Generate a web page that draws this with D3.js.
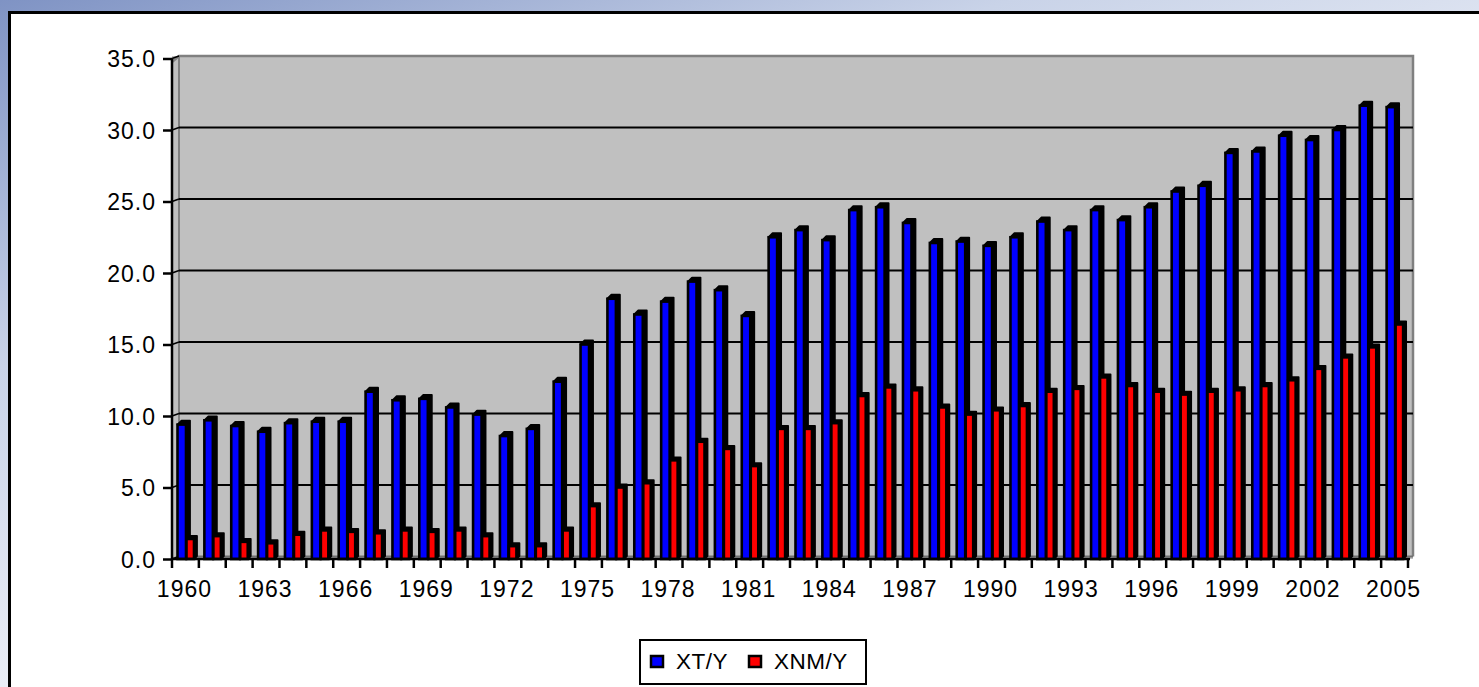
<!DOCTYPE html>
<html><head><meta charset="utf-8">
<script src="https://cdn.jsdelivr.net/npm/d3@7"></script>
<style>
html,body{margin:0;padding:0;}
body{width:1479px;height:687px;overflow:hidden;background:linear-gradient(160deg,#7f93c4 0%,#c9d3e8 30%,#eef1f8 60%,#b7c3df 100%);}
svg{position:absolute;left:0;top:0;}
text{font-family:"Liberation Sans",Arial,sans-serif;}
</style></head><body>
<svg id="chart" width="1479" height="687"></svg>
<script>
const years = d3.range(1960, 2006);
const seriesNames = ["XT/Y", "XNM/Y"];
const xtY = [9.4,9.7,9.3,8.9,9.5,9.6,9.6,11.7,11.1,11.2,10.6,10.1,8.6,9.1,12.4,15.0,18.2,17.1,18.0,19.4,18.8,17.0,22.5,23.0,22.3,24.4,24.6,23.5,22.1,22.2,21.9,22.5,23.6,23.0,24.4,23.7,24.6,25.7,26.1,28.4,28.5,29.6,29.3,30.0,31.7,31.6];
const xnmY = [1.4,1.6,1.2,1.1,1.7,2.0,1.9,1.8,2.0,1.9,2.0,1.6,0.9,0.9,2.0,3.7,5.0,5.3,6.9,8.2,7.7,6.5,9.1,9.1,9.5,11.4,12.0,11.8,10.6,10.1,10.4,10.7,11.7,11.9,12.7,12.1,11.7,11.5,11.7,11.8,12.1,12.5,13.3,14.1,14.8,16.4];
const yTicks = [0,5,10,15,20,25,30,35];
const xLabelYears = d3.range(1960, 2006, 3);
const colors = ["#0000ff", "#ff0000"];

const svg = d3.select("#chart");
// chart area (white with black frame)
svg.append("rect").attr("x",9.5).attr("y",12.5).attr("width",1479).attr("height",700)
  .attr("fill","#fff").attr("stroke","#000").attr("stroke-width",3);

const axL = 172, axR = 1408, wallL = 179, wallR = 1413, plotTop = 56, base = 559;
const x = d3.scaleBand().domain(years).range([axL, axR]).padding(0);
const y = d3.scaleLinear().domain([0,35]).range([base, 58.5]);
const gOff = 2.5; // back-wall offset

// plot area (walls)
svg.append("rect").attr("x",axL).attr("y",plotTop).attr("width",wallR-axL).attr("height",base-plotTop).attr("fill","#c0c0c0");
svg.append("path").attr("d",`M${axL},${plotTop+6}L${wallL},${plotTop}L${wallR},${plotTop}L${wallR},${base-gOff}`)
  .attr("fill","none").attr("stroke","#808080").attr("stroke-width",2.5);
svg.append("line").attr("x1",wallL).attr("x2",wallL).attr("y1",plotTop).attr("y2",base-gOff)
  .attr("stroke","#808080").attr("stroke-width",2);
svg.append("line").attr("x1",axL).attr("x2",wallL).attr("y1",base).attr("y2",base-gOff)
  .attr("stroke","#808080").attr("stroke-width",2);

// gridlines
svg.append("g").selectAll("line").data(yTicks.slice(1,-1)).join("line")
  .attr("x1",wallL).attr("x2",wallR).attr("y1",d=>y(d)-gOff).attr("y2",d=>y(d)-gOff)
  .attr("stroke","#000").attr("stroke-width",2);
svg.append("line").attr("x1",wallL).attr("x2",wallR).attr("y1",base-gOff).attr("y2",base-gOff)
  .attr("stroke","#707070").attr("stroke-width",2);
// connectors from axis to wall gridlines
svg.append("g").selectAll("line").data(yTicks).join("line")
  .attr("x1",axL).attr("x2",wallL).attr("y1",d=>y(d)).attr("y2",d=>y(d)-gOff)
  .attr("stroke","#000").attr("stroke-width",1.5);

// bars
const bw = x.bandwidth();
const specs = [
  {vals: xtY, off: 5.5, w: 8.5, d: 4, color: colors[0]},
  {vals: xnmY, off: 14.5, w: 7.5, d: 3, color: colors[1]}
];
years.forEach((yr, i) => {
  specs.forEach(s => {
    const v = s.vals[i];
    const x0 = x(yr) + s.off, y0 = y(v), h = base - y0;
    const g = svg.append("g");
    g.append("path")
      .attr("d",`M${x0},${y0}L${x0+s.d},${y0-s.d}L${x0+s.w+s.d},${y0-s.d}L${x0+s.w+s.d},${base-s.d}L${x0+s.w},${base}L${x0+s.w},${y0}Z`)
      .attr("fill","#000").attr("stroke","#000").attr("stroke-width",1.8).attr("stroke-linejoin","round");
    g.append("rect").attr("x",x0).attr("y",y0).attr("width",s.w).attr("height",h)
      .attr("fill",s.color).attr("stroke","#000").attr("stroke-width",2.6);
  });
});

// axes
const yAxis = d3.axisLeft(y).tickValues(yTicks).tickSize(9).tickFormat(d3.format(".1f"));
const gy = svg.append("g").attr("transform",`translate(${axL},0)`).call(yAxis);
gy.select(".domain").attr("stroke","#000").attr("stroke-width",2.5).attr("d",`M0,${y(35)}V${base}`);
gy.selectAll(".tick line").attr("stroke","#000").attr("stroke-width",2.5);
gy.selectAll(".tick text").attr("x",-16).attr("font-size",23).attr("letter-spacing",1)
  .attr("fill","#000").attr("dy","0.36em").style("font-family","'Liberation Sans',Arial,sans-serif");

const xTickScale = d3.scaleLinear().domain([0, years.length]).range([axL, axR]);
const gx = svg.append("g");
gx.append("line").attr("x1",axL).attr("x2",axR+2).attr("y1",base).attr("y2",base).attr("stroke","#000").attr("stroke-width",2.5);
gx.selectAll("line.t").data(d3.range(0, years.length+1)).join("line").attr("class","t")
  .attr("x1",d=>xTickScale(d)).attr("x2",d=>xTickScale(d)).attr("y1",base).attr("y2",base+9)
  .attr("stroke","#000").attr("stroke-width",2.5);
gx.selectAll("text").data(xLabelYears).join("text")
  .attr("x",d=>x(d)+bw/2-1).attr("y",597).attr("text-anchor","middle")
  .attr("font-size",23).attr("letter-spacing",1).attr("fill","#000").text(d=>d);

// legend
const lg = svg.append("g");
lg.append("rect").attr("x",640).attr("y",640).attr("width",226).attr("height",44)
  .attr("fill","#fff").attr("stroke","#000").attr("stroke-width",2);
const legendItems = [{name: seriesNames[0], color: colors[0], sx: 651, tx: 676},
                     {name: seriesNames[1], color: colors[1], sx: 749, tx: 774}];
legendItems.forEach(it => {
  lg.append("rect").attr("x",it.sx).attr("y",656).attr("width",12).attr("height",11)
    .attr("fill",it.color).attr("stroke","#000").attr("stroke-width",2.5);
  lg.append("text").attr("x",it.tx).attr("y",669).attr("font-size",22.5).attr("letter-spacing",0.5)
    .attr("fill","#000").text(it.name);
});
</script>
</body></html>
